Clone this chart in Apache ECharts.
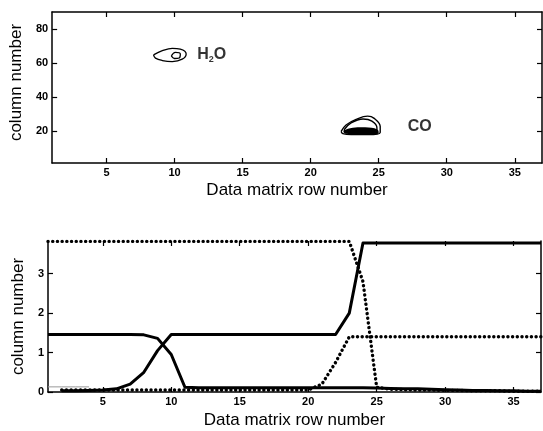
<!DOCTYPE html>
<html>
<head>
<meta charset="utf-8">
<script src="https://cdn.jsdelivr.net/npm/echarts@6/dist/echarts.min.js"></script>
<style>
  html, body { margin: 0; background: #fff; }
  #chart { width: 543px; height: 431px; }
</style>
</head>
<body>
<div id="chart"></div>
<script>
// ---- top panel: contour rings [row, column] ----
const h2oOuter = [[8.45, 64.7], [9.1, 67.2], [9.83, 68.6], [10.42, 68.1], [10.85, 65.3], [10.56, 62.2], [9.83, 60.8], [9.1, 61.4], [8.59, 62.8], [8.45, 64.7]]
const h2oInner = [[9.76, 64.1], [10.05, 66.2], [10.42, 65.3], [10.34, 62.9], [9.98, 62.6], [9.76, 64.1]]
const coOuter = [[22.24, 19.6], [22.6, 23.4], [23.34, 26.7], [24.19, 28.6], [24.67, 27.3], [25.11, 22.5], [25.11, 19.0], [24.19, 17.7], [22.97, 17.7], [22.36, 18.3], [22.24, 19.6]]
const coInner = [[22.46, 20.6], [22.97, 24.6], [23.85, 26.9], [24.5, 25.7], [24.87, 21.7], [24.8, 19.4], [23.7, 18.9], [22.6, 18.9], [22.46, 20.6]]
const coCore = [[22.4, 19.5], [22.9, 21.5], [24.0, 22.0], [24.9, 20.8], [24.95, 18.3], [23.8, 17.8], [22.6, 18.2]]
const peakLabels = [
  { name: 'H2O', pos: [11.66, 64.7] },
  { name: 'CO', pos: [27.13, 22.3] }
]

// ---- bottom panel: profiles per data matrix row ----
const rows = [1,2,3,4,5,6,7,8,9,10,11,12,13,14,15,16,17,18,19,20,21,22,23,24,25,26,27,28,29,30,31,32,33,34,35,36,37]
const solidA = [1.46,1.46,1.46,1.46,1.46,1.46,1.46,1.45,1.36,0.95,0.12,0.11,0.11,0.11,0.11,0.11,0.11,0.11,0.11,0.11,0.11,0.11,0.11,0.11,0.1,0.09,0.08,0.08,0.07,0.06,0.05,0.04,0.04,0.03,0.03,0.02,0.02]
const solidB = [null,0.03,0.03,0.04,0.05,0.08,0.2,0.5,1.05,1.46,1.46,1.46,1.46,1.46,1.46,1.46,1.46,1.46,1.46,1.46,1.46,1.46,2.0,3.78,3.78,3.78,3.78,3.78,3.78,3.78,3.78,3.78,3.78,3.78,3.78,3.78,3.78]
const dottedC = [3.82,3.82,3.82,3.82,3.82,3.82,3.82,3.82,3.82,3.82,3.82,3.82,3.82,3.82,3.82,3.82,3.82,3.82,3.82,3.82,3.82,3.82,3.82,2.8,0.12,0.07,0.06,0.05,0.05,0.04,0.04,0.03,0.03,0.03,0.02,0.02,0.02]
const dottedD = [null,0.05,0.05,0.05,0.05,0.05,0.05,0.05,0.05,0.05,0.05,0.05,0.05,0.05,0.05,0.05,0.05,0.05,0.05,0.05,0.2,0.75,1.4,1.4,1.4,1.4,1.4,1.4,1.4,1.4,1.4,1.4,1.4,1.4,1.4,1.4,1.4]
const faintLine = [0.13,0.13,0.13,0.13]

// tick labels
const xTicks = [5, 10, 15, 20, 25, 30, 35]
const yTicksTop = [20, 40, 60, 80]
const yTicksBottom = [0, 1, 2, 3]

const FONT = 'Liberation Sans, Arial, sans-serif'
const pairs = (ys) => rows.map((r, i) => [r, ys[i]]).filter(p => p[1] !== null && p[1] !== undefined)

function axis(gridIndex, position, min, max, ticks, withLabels, name, nameGap, namePad) {
  return {
    type: 'value', gridIndex, position, min, max,
    axisLine: { show: true, onZero: false, lineStyle: { color: '#000', width: 1.5 } },
    axisTick: { show: true, inside: true, length: 5, customValues: ticks, lineStyle: { color: '#000', width: 1.2 } },
    axisLabel: {
      show: withLabels, customValues: ticks, margin: 4, color: '#000',
      fontSize: 11, fontWeight: 'bold', fontFamily: FONT
    },
    splitLine: { show: false },
    name: withLabels ? name : '',
    nameLocation: 'middle',
    nameGap,
    nameTextStyle: { color: '#000', fontSize: 17, fontFamily: FONT, padding: namePad || 0 }
  }
}

const ring = (pts, width) => ({
  type: 'line', xAxisIndex: 0, yAxisIndex: 0, data: pts, smooth: 0.4,
  symbol: 'none', lineStyle: { color: '#000', width }, silent: true
})

const profile = (ys, dotted) => ({
  type: 'line', xAxisIndex: 2, yAxisIndex: 2, data: pairs(ys), symbol: 'none',
  lineStyle: dotted
    ? { color: '#000', width: 3.4, type: [0.1, 4.6], cap: 'round' }
    : { color: '#000', width: 3, join: 'round' },
  silent: true
})

// bottom panel's top frame is hidden under the dotted trace in the original
const bottomTop = axis(1, 'top', 1, 37, xTicks, false)
bottomTop.axisLine.show = false

const chart = echarts.init(document.getElementById('chart'), null, { renderer: 'canvas' })
chart.setOption({
  animation: false,
  backgroundColor: '#fff',
  grid: [
    { left: 49, right: 1, top: 12, height: 151 },
    { left: 48, right: 2, top: 241, height: 151 }
  ],
  xAxis: [
    axis(0, 'bottom', 1, 37, xTicks, true, 'Data matrix row number', 19),
    axis(0, 'top', 1, 37, xTicks, false),
    axis(1, 'bottom', 1, 37, xTicks, true, 'Data matrix row number', 20),
    bottomTop
  ],
  yAxis: [
    axis(0, 'left', 1, 90, yTicksTop, true, 'column number', 20, [0, 0, 0, 10]),
    axis(0, 'right', 1, 90, yTicksTop, false),
    axis(1, 'left', 0, 3.83, yTicksBottom, true, 'column number', 18),
    axis(1, 'right', 0, 3.83, yTicksBottom, false)
  ],
  series: [
    ring(h2oOuter, 1.3),
    ring(h2oInner, 1.3),
    ring(coOuter, 1.4),
    ring(coInner, 1.4),
    {
      type: 'custom', xAxisIndex: 0, yAxisIndex: 0, silent: true,
      data: [0],
      renderItem: (params, api) => ({
        type: 'polygon',
        shape: { points: coCore.map(p => api.coord(p)), smooth: 0.4 },
        style: { fill: '#000' }
      })
    },
    {
      type: 'scatter', xAxisIndex: 0, yAxisIndex: 0, symbolSize: 0.1, silent: true,
      data: peakLabels.map(p => ({ value: p.pos, name: p.name })),
      label: {
        show: true, position: 'right', distance: 0,
        formatter: (p) => p.name === 'H2O' ? '{b|H}{s|2}{b|O}' : '{b|CO}',
        rich: {
          b: { fontSize: 16, color: '#000', fontFamily: FONT, fontWeight: 'bold' },
          s: { fontSize: 9, color: '#000', fontFamily: FONT, fontWeight: 'bold', padding: [9, 0, 0, 0] }
        }
      }
    },
    {
      type: 'line', xAxisIndex: 2, yAxisIndex: 2, data: pairs(faintLine), symbol: 'none',
      lineStyle: { color: '#999', width: 1 }, silent: true
    },
    profile(solidA, false),
    profile(solidB, false),
    profile(dottedC, true),
    profile(dottedD, true)
  ]
})
</script>
</body>
</html>
